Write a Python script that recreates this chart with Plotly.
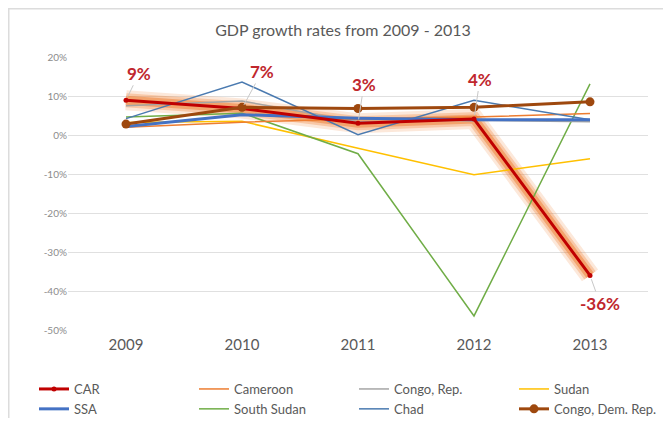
import plotly.graph_objects as go

years = ["2009", "2010", "2011", "2012", "2013"]
car = [8.9, 6.8, 3.0, 4.1, -36.0]
cameroon = [2.0, 3.3, 4.1, 4.6, 5.5]
congo_rep = [7.5, 8.7, 3.4, 3.8, 3.4]
sudan = [3.2, 3.5, -3.4, -10.2, -6.1]
ssa = [2.2, 5.2, 4.3, 3.9, 3.9]
south_sudan = [4.6, 5.6, -4.8, -46.4, 13.1]
chad = [4.2, 13.6, 0.1, 8.9, 3.9]
drc = [2.8, 7.1, 6.8, 7.1, 8.5]
car_labels = ["9%", "7%", "3%", "4%", "-36%"]
label_offsets = [(13, -27), (20, -37), (6, -39), (6, -40), (10, 28)]
y_tickvals = [-50, -40, -30, -20, -10, 0, 10, 20]
y_ticktext = ["-50%", "-40%", "-30%", "-20%", "-10%", "0%", "10%", "20%"]

FONT = "Lato"
W, H = 655, 410          # page body adds an 8px margin around the figure
L, R, T, B = 60, 15, 49, 88
PW, PH = W - L - R, H - T - B

fig = go.Figure()

# glow under CAR
for w, a in [(20, 0.18), (14, 0.3), (9, 0.5)]:
    fig.add_trace(go.Scatter(x=years, y=car, mode="lines", showlegend=False, hoverinfo="skip",
                             line=dict(color=f"rgba(237,125,49,{a})", width=w)))

series = [
    ("Sudan", sudan, "#ffc000", 1.5, None, 4),
    ("South Sudan", south_sudan, "#70ad47", 1.5, None, 6),
    ("Congo, Rep.", congo_rep, "#a5a5a5", 1.5, None, 3),
    ("Cameroon", cameroon, "#ed7d31", 1.5, None, 2),
    ("Chad", chad, "#4a7ab0", 1.5, None, 7),
    ("SSA", ssa, "#4472c4", 3, None, 5),
    ("CAR", car, "#c00000", 3, 5, 1),
    ("Congo, Dem. Rep.", drc, "#9e480e", 3, 9, 8),
]
for name, vals, col, w, msize, rank in series:
    mode = "lines+markers" if msize else "lines"
    fig.add_trace(go.Scatter(x=years, y=vals, name=name, mode=mode, legendrank=rank,
                             line=dict(color=col, width=w),
                             marker=dict(size=msize or 1, color=col)))

for i, (v, t, (ax, ay)) in enumerate(zip(car, car_labels, label_offsets)):
    fig.add_annotation(x=i, y=v, xref="x", yref="y", text=f"<b>{t}</b>", showarrow=True,
                       ax=ax, ay=ay, arrowhead=0, arrowwidth=1, arrowcolor="#c8c8c8", standoff=4,
                       font=dict(family=FONT, size=17, color="#c0272d"))

fig.add_shape(type="rect", xref="paper", yref="paper",
              x0=(0.75 - L) / PW, x1=(W + 20 - L) / PW,
              y0=-(B + 20) / PH, y1=(PH + T - 0.75) / PH,
              line=dict(color="#dcdcdc", width=1.5), layer="below")

fig.update_layout(
    width=W, height=H,
    margin=dict(l=L, r=R, t=T, b=B, autoexpand=False),
    paper_bgcolor="white", plot_bgcolor="white",
    font=dict(family=FONT, color="#595959"),
    title=dict(text="GDP growth rates from 2009 - 2013", x=335 / W, xanchor="center",
               y=1 - 22 / H, yanchor="middle", font=dict(size=16, color="#595959")),
    xaxis=dict(type="category", range=[-0.5, 4.5], showgrid=False, showline=False,
               ticks="", tickfont=dict(size=15, color="#595959"), ticklabelstandoff=4),
    yaxis=dict(range=[-50, 20], tickvals=y_tickvals, ticktext=y_ticktext,
               gridcolor="#e0e0e0", gridwidth=1,
               zeroline=False, showline=False, tickfont=dict(size=10, color="#8c8c8c")),
    legend=dict(orientation="h", xref="paper", yref="paper",
                x=(26 - L) / PW, xanchor="left", y=-(366 - (T + PH)) / PH, yanchor="top",
                entrywidth=115, entrywidthmode="pixels", tracegroupgap=0,
                font=dict(size=13, color="#595959"), itemwidth=30),
    showlegend=True,
)
fig.write_html("out.html")
